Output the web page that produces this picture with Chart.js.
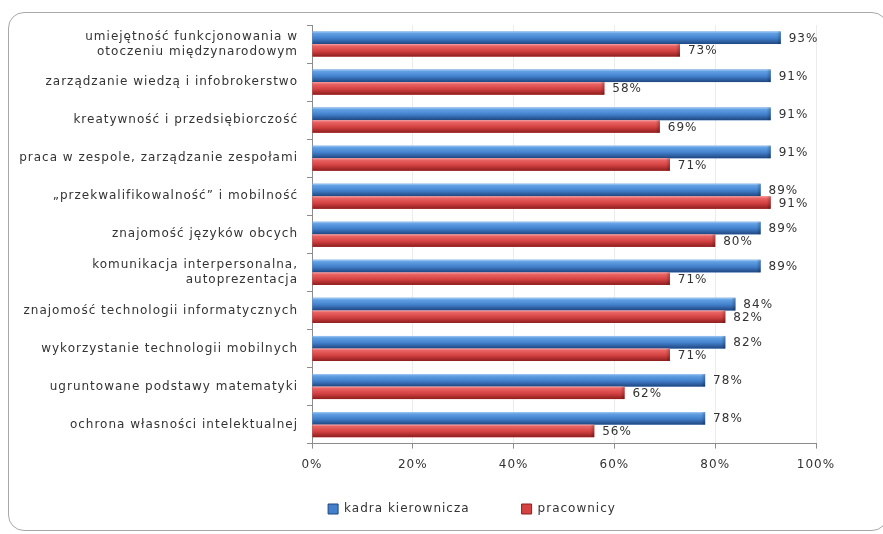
<!DOCTYPE html>
<html>
<head>
<meta charset="utf-8">
<script src="https://cdn.jsdelivr.net/npm/chart.js@4.4.1/dist/chart.umd.min.js"></script>
<style>
  html, body { margin: 0; padding: 0; background: #fff; }
  #wrap { position: relative; width: 883px; height: 534px; overflow: hidden; }
  #frame {
    position: absolute; left: 8px; top: 12px; width: 880px; height: 519px;
    border: 1px solid #a8a8a8; border-radius: 16px; box-sizing: border-box;
  }
  canvas { position: absolute; left: 0; top: 0; }
</style>
</head>
<body>
<div id="wrap">
  <div id="frame"></div>
  <canvas id="chart" width="883" height="534"></canvas>
</div>
<script>
// Competences ranked by managers (kadra kierownicza) vs employees (pracownicy)
const CATEGORIES = [
  ['umiejętność funkcjonowania w', 'otoczeniu międzynarodowym'],
  'zarządzanie wiedzą i infobrokerstwo',
  'kreatywność i przedsiębiorczość',
  'praca w zespole, zarządzanie zespołami',
  '„przekwalifikowalność” i mobilność',
  'znajomość języków obcych',
  ['komunikacja interpersonalna,', 'autoprezentacja'],
  'znajomość technologii informatycznych',
  'wykorzystanie technologii mobilnych',
  'ugruntowane podstawy matematyki',
  'ochrona własności intelektualnej',
];
const MANAGERS = [93, 91, 91, 91, 89, 89, 89, 84, 82, 78, 78];
const EMPLOYEES = [73, 58, 69, 71, 91, 80, 71, 82, 71, 62, 56];
const X_TICKS = [0, 20, 40, 60, 80, 100];

const FONT = 'DejaVu Sans';
const TEXT = '#333';
const AXIS = '#8c8c8c';

// vertical shading stops for each series: [offset, colour]
const SHADES = [
  [[0, '#a6ccf4'], [0.15, '#62a0e4'], [0.55, '#4280cc'], [1, '#1f4680']],
  [[0, '#f8a8a8'], [0.15, '#ea6464'], [0.55, '#d44242'], [1, '#8e1e1e']],
];

// text in this chart is set a little loose; resizing the canvas resets
// the context, so apply it again before measuring and before drawing
const looseText = {
  id: 'looseText',
  beforeUpdate(chart) { chart.ctx.letterSpacing = '1px'; },
  beforeDraw(chart) { chart.ctx.letterSpacing = '1px'; },
};

function shade(ctx, di, top, height) {
  const g = ctx.createLinearGradient(0, top, 0, top + height);
  SHADES[di].forEach(([o, c]) => g.addColorStop(o, c));
  return g;
}

// repaint every bar with a top-to-bottom gradient so it looks rounded
const barShading = {
  id: 'barShading',
  afterDatasetsDraw(chart) {
    const ctx = chart.ctx;
    chart.data.datasets.forEach((ds, di) => {
      chart.getDatasetMeta(di).data.forEach((bar) => {
        const { x, y, base, height } = bar.getProps(['x', 'y', 'base', 'height'], true);
        const top = y - height / 2;
        ctx.save();
        ctx.fillStyle = shade(ctx, di, top, height);
        ctx.fillRect(base, top, x - base, height);
        // darker end cap
        const cap = ctx.createLinearGradient(x - 4, 0, x, 0);
        cap.addColorStop(0, 'rgba(0,0,0,0)');
        cap.addColorStop(1, 'rgba(0,0,0,0.25)');
        ctx.fillStyle = cap;
        ctx.fillRect(x - 4, top, 4, height);
        ctx.restore();
      });
    });
  },
};

// percentage written just past the end of each bar
const valueLabels = {
  id: 'valueLabels',
  afterDatasetsDraw(chart) {
    const ctx = chart.ctx;
    ctx.save();
    ctx.font = '12px "' + FONT + '"';
    ctx.fillStyle = TEXT;
    ctx.textAlign = 'left';
    ctx.textBaseline = 'middle';
    chart.data.datasets.forEach((ds, di) => {
      chart.getDatasetMeta(di).data.forEach((bar, i) => {
        ctx.fillText(ds.data[i] + '%', bar.x + 8, bar.y + 1);
      });
    });
    ctx.restore();
  },
};

// the legend sits a bit right of the canvas centre and closer to the axis
const legendNudge = {
  id: 'legendNudge',
  afterLayout(chart) {
    const lg = chart.legend;
    const dx = 472 - (lg.left + lg.right) / 2;
    lg.left += dx;
    lg.right += dx;
    lg.top -= 30;
    lg.bottom = chart.height;
  },
};

new Chart(document.getElementById('chart'), {
  type: 'bar',
  data: {
    labels: CATEGORIES,
    datasets: [
      { label: 'kadra kierownicza', data: MANAGERS, backgroundColor: '#4280cc', borderWidth: 0 },
      { label: 'pracownicy', data: EMPLOYEES, backgroundColor: '#d44242', borderWidth: 0 },
    ],
  },
  plugins: [looseText, barShading, valueLabels, legendNudge],
  options: {
    indexAxis: 'y',
    responsive: false,
    animation: false,
    events: [],
    layout: { padding: { left: 0, right: 67, top: 25, bottom: 4 } },
    datasets: { bar: { categoryPercentage: 0.66, barPercentage: 1 } },
    scales: {
      x: {
        min: 0,
        max: 100,
        afterBuildTicks: (scale) => { scale.ticks = X_TICKS.map((v) => ({ value: v })); },
        ticks: {
          callback: (v) => v + '%',
          font: { family: FONT, size: 12 },
          color: TEXT,
          padding: 9,
        },
        grid: { color: '#ececec', tickColor: AXIS, tickLength: 5 },
        border: { color: AXIS },
      },
      y: {
        afterFit: (scale) => { scale.width = 312; },
        ticks: {
          font: { family: FONT, size: 12, lineHeight: 1.25 },
          color: TEXT,
          padding: 9,
        },
        grid: { drawOnChartArea: false, tickColor: AXIS, tickLength: 5 },
        border: { color: AXIS },
      },
    },
    plugins: {
      legend: {
        position: 'bottom',
        maxHeight: 49,
        labels: {
          font: { family: FONT, size: 12 },
          color: TEXT,
          boxWidth: 10,
          boxHeight: 10,
          padding: 52,
          generateLabels: (chart) =>
            Chart.defaults.plugins.legend.labels.generateLabels(chart).map((item, i) => ({
              ...item,
              fillStyle: SHADES[i][2][1],
              strokeStyle: SHADES[i][3][1],
              lineWidth: 1,
            })),
        },
      },
      tooltip: { enabled: false },
    },
  },
});
</script>
</body>
</html>
